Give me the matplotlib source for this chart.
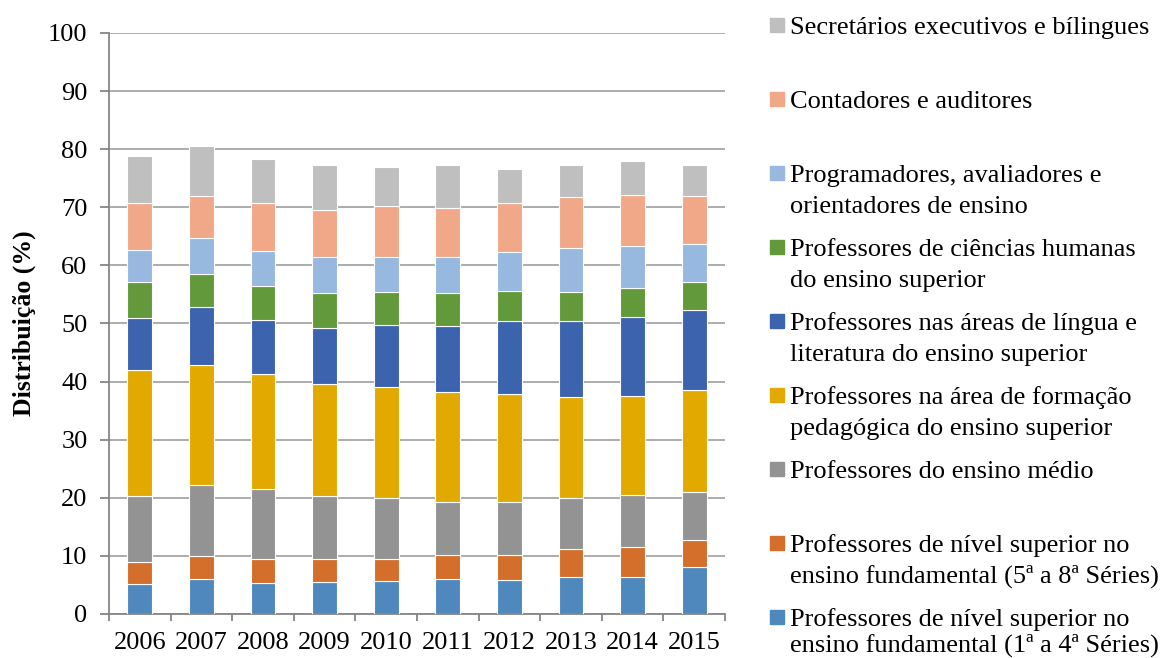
import matplotlib.pyplot as plt
import numpy as np
from matplotlib.patches import Rectangle

plt.rcParams['font.family'] = ['Liberation Serif', 'DejaVu Serif']

years = ['2006', '2007', '2008', '2009', '2010', '2011', '2012', '2013', '2014', '2015']

# bottom to top
fund_1a4 = [5.2, 6.0, 5.3, 5.5, 5.6, 6.1, 5.8, 6.3, 6.3, 8.0]
fund_5a8 = [3.7, 3.9, 4.1, 3.9, 3.9, 4.1, 4.4, 4.8, 5.2, 4.8]
medio = [11.4, 12.3, 12.1, 10.9, 10.4, 9.0, 9.0, 8.9, 9.0, 8.2]
pedagogica = [21.7, 20.6, 19.8, 19.3, 19.1, 19.0, 18.6, 17.3, 17.1, 17.5]
lingua = [8.9, 10.0, 9.3, 9.6, 10.7, 11.3, 12.6, 13.1, 13.5, 13.9]
humanas = [6.2, 5.8, 5.9, 6.0, 5.7, 5.7, 5.2, 5.1, 5.0, 4.8]
programadores = [5.6, 6.1, 5.9, 6.3, 6.0, 6.2, 6.7, 7.5, 7.3, 6.5]
contadores = [8.0, 7.3, 8.3, 8.1, 8.8, 8.4, 8.5, 8.7, 8.7, 8.3]
secretarios = [8.2, 8.5, 7.6, 7.7, 6.8, 7.5, 5.8, 5.5, 5.8, 5.2]

series = [fund_1a4, fund_5a8, medio, pedagogica, lingua, humanas,
          programadores, contadores, secretarios]
labels = [
    'Professores de nível superior no\nensino fundamental (1ª a 4ª Séries)',
    'Professores de nível superior no\nensino fundamental (5ª a 8ª Séries)',
    'Professores do ensino médio',
    'Professores na área de formação\npedagógica do ensino superior',
    'Professores nas áreas de língua e\nliteratura do ensino superior',
    'Professores de ciências humanas\ndo ensino superior',
    'Programadores, avaliadores e\norientadores de ensino',
    'Contadores e auditores',
    'Secretários executivos e bílingues',
]
colors = ['#4F88BD', '#D36F2B', '#939393', '#E2AA00', '#3C63AE',
          '#61993B', '#97B8DF', '#F0A888', '#BFBFBF']

fig = plt.figure(figsize=(11.63, 6.58), dpi=100)
ax = fig.add_axes([0.0937, 0.0669, 0.5297, 0.883])

x = np.arange(len(years))
bottom = np.zeros(len(years))
for vals, c in zip(series, colors):
    ax.bar(x, vals, 0.4, bottom=bottom, color=c, edgecolor='white',
           linewidth=0.8, zorder=3)
    bottom += np.array(vals)

ax.set_ylim(0, 100)
ax.set_xlim(-0.5, len(years) - 0.5)
ax.set_yticks(range(0, 101, 10))
ax.set_xticks(x)
ax.set_xticklabels(years)
ax.set_xticks(np.arange(len(years) + 1) - 0.5, minor=True)
ax.grid(axis='y', color='#A6A6A6', linewidth=1.3, zorder=0)
ax.set_axisbelow(True)

for s in ['top', 'right']:
    ax.spines[s].set_visible(False)
for s in ['left', 'bottom']:
    ax.spines[s].set_color('#868686')
    ax.spines[s].set_linewidth(1.3)

ax.tick_params(axis='y', length=6.5, width=1.3, color='#868686',
               labelsize=19, pad=9)
ax.tick_params(axis='x', which='major', length=0, labelsize=19, pad=13)
ax.tick_params(axis='x', which='minor', length=5, width=1.3, color='#868686')

ax.set_ylabel('Distribuição (%)', fontsize=18.5, fontweight='bold')
ax.yaxis.set_label_coords(-0.118, 0.5)

# legend drawn by hand, top entry first
H = 658.0
base_y = 34
step = 74
line_gap = 31
for i, (lab, c) in enumerate(zip(labels[::-1], colors[::-1])):
    y0 = base_y + i * step
    fig.patches.append(Rectangle((770 / 1163, 1 - (y0 - 2) / H), 14 / 1163, 14 / H,
                                 transform=fig.transFigure, color=c))
    for k, line in enumerate(lab.split('\n')):
        yy = min(y0 + k * line_gap, 652)
        fig.text(790 / 1163, 1 - yy / H, line,
                 fontsize=19, va='baseline', ha='left')

fig.savefig('out.png', dpi=100)
